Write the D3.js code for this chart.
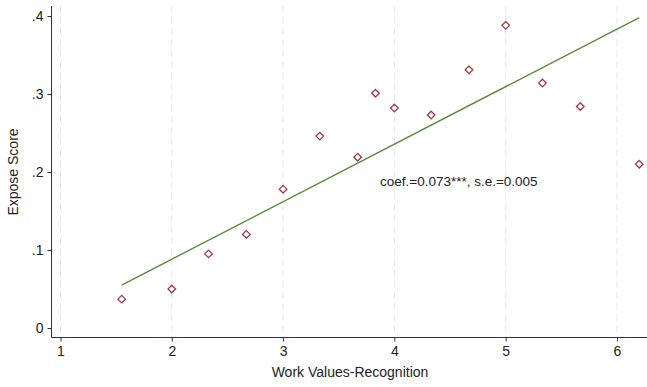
<!DOCTYPE html>
<html>
<head>
<meta charset="utf-8">
<script src="https://cdn.jsdelivr.net/npm/d3@7"></script>
<style>
  body { margin: 0; background: #fff; }
  svg { font-family: Arial, "Liberation Sans", sans-serif; }
</style>
</head>
<body>
<div id="chart"></div>
<script>
const xVals = [1.55, 2.0, 2.33, 2.67, 3.0, 3.33, 3.67, 3.83, 4.0, 4.33, 4.67, 5.0, 5.33, 5.67, 6.2]
const yVals = [0.037, 0.050, 0.095, 0.120, 0.178, 0.246, 0.219, 0.301, 0.282, 0.273, 0.331, 0.388, 0.314, 0.284, 0.210]
const fitX = [1.55, 6.2]
const fitY = [0.055, 0.398]
const xTicks = [1, 2, 3, 4, 5, 6]
const yTicks = [0, 0.1, 0.2, 0.3, 0.4]
const yTickLabels = ['0', '.1', '.2', '.3', '.4']
const note = 'coef.=0.073***, s.e.=0.005'

const width = 647
const height = 387
const margin = { top: 6, right: 0, bottom: 50, left: 52 }

const svg = d3.select('#chart')
  .append('svg')
  .attr('width', width)
  .attr('height', height)

// x=1 sits at ~60.5px, x=6 at ~617px
const x = d3.scaleLinear().domain([1, 6]).range([60.5, 617])
const y = d3.scaleLinear().domain([0, 0.4]).range([328, 16])

const plotBottom = height - margin.bottom + 0.5

// vertical dashed gridlines
svg.append('g')
  .selectAll('line')
  .data(xTicks)
  .enter()
  .append('line')
  .attr('x1', (d) => x(d))
  .attr('x2', (d) => x(d))
  .attr('y1', margin.top)
  .attr('y2', plotBottom)
  .attr('stroke', '#e6e6e6')
  .attr('stroke-width', 1)
  .attr('stroke-dasharray', '7,4')

const xAxis = svg.append('g')
  .attr('transform', `translate(0, ${plotBottom})`)
  .call(d3.axisBottom(x).tickValues(xTicks).tickFormat(d3.format('d')).tickSize(4).tickPadding(5))

const yAxis = svg.append('g')
  .attr('transform', `translate(${margin.left - 0.5}, 0)`)
  .call(d3.axisLeft(y).tickValues(yTicks).tickFormat((d, i) => yTickLabels[i]).tickSize(4).tickPadding(4))

xAxis.select('.domain').attr('d', `M${margin.left - 0.5},0H${width}`)
yAxis.select('.domain').attr('d', `M0,${margin.top}V${plotBottom}`)

;[xAxis, yAxis].forEach((g) => {
  g.selectAll('.domain').attr('stroke', '#333')
  g.selectAll('.tick line').attr('stroke', '#333')
  g.selectAll('.tick text').attr('fill', '#222').style('font-size', '14px').style('font-family', 'Arial, "Liberation Sans", sans-serif')
})

// fitted line
svg.append('path')
  .datum(fitX.map((d, i) => [d, fitY[i]]))
  .attr('d', d3.line().x((d) => x(d[0])).y((d) => y(d[1])))
  .attr('fill', 'none')
  .attr('stroke', '#5a8a3c')
  .attr('stroke-width', 1.4)

// hollow diamonds
svg.append('g')
  .selectAll('path')
  .data(xVals.map((d, i) => [d, yVals[i]]))
  .enter()
  .append('path')
  .attr('transform', (d) => `translate(${x(d[0])}, ${y(d[1])})`)
  .attr('d', 'M0,-3.8L3.8,0L0,3.8L-3.8,0Z')
  .attr('fill', 'none')
  .attr('stroke', '#9e3a44')
  .attr('stroke-width', 1.3)

svg.append('text')
  .attr('x', 380)
  .attr('y', 186)
  .attr('fill', '#222')
  .style('font-size', '13.5px')
  .text(note)

svg.append('text')
  .attr('x', 350)
  .attr('y', 377)
  .attr('text-anchor', 'middle')
  .attr('fill', '#222')
  .style('font-size', '14px')
  .text('Work Values-Recognition')

svg.append('text')
  .attr('transform', 'translate(18, 172) rotate(-90)')
  .attr('text-anchor', 'middle')
  .attr('fill', '#222')
  .style('font-size', '14px')
  .text('Expose Score')
</script>
</body>
</html>
